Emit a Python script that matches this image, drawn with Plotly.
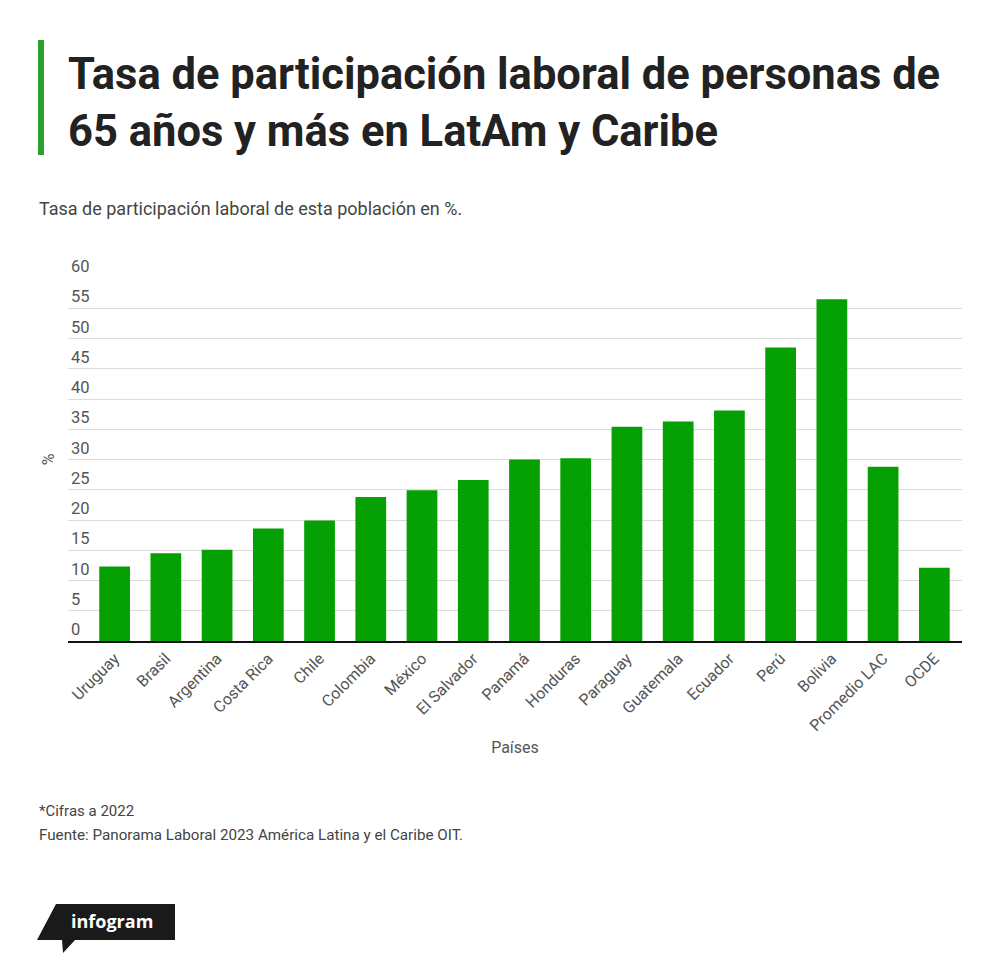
import plotly.graph_objects as go

# Tasa de participación laboral 65+ (%), cifras a 2022
paises = [
    "Uruguay", "Brasil", "Argentina", "Costa Rica", "Chile", "Colombia",
    "México", "El Salvador", "Panamá", "Honduras", "Paraguay", "Guatemala",
    "Ecuador", "Perú", "Bolivia", "Promedio LAC", "OCDE",
]
tasas = [
    12.3, 14.5, 15.1, 18.6, 19.9, 23.8,
    24.9, 26.6, 30.0, 30.2, 35.4, 36.3,
    38.1, 48.5, 56.5, 28.8, 12.1,
]
y_ticks = list(range(0, 61, 5))

# page body adds an 8px margin, so the figure is a bit smaller than the window
OFF = 8
W, H = 1000 - OFF, 972 - OFF
L, R, T, B = 68 - OFF, 38, 278 - OFF, 331
GREEN = "#04a004"
FONT = "Roboto, 'Noto Sans', sans-serif"


def px(x):
    return (x - OFF - L) / (W - L - R)


def py(y):
    return (H - B - (y - OFF)) / (H - T - B)


fig = go.Figure()
fig.add_trace(go.Bar(
    x=paises, y=tasas, marker_color=GREEN, marker_line_width=0,
    width=0.6, hovertemplate="%{x}: %{y}%<extra></extra>",
))

fig.update_layout(
    width=W, height=H,
    margin=dict(l=L, r=R, t=T, b=B),
    paper_bgcolor="white", plot_bgcolor="white",
    font=dict(family=FONT, color="#555", size=15),
    showlegend=False,
    title=dict(
        text="Tasa de participación laboral de personas de<br>65 años y más en LatAm y Caribe",
        xref="container", yref="container", x=(68 - OFF) / W, y=1 - 81 / H,
        xanchor="left", yanchor="top",
        font=dict(family=FONT, size=43.5, color="#222", weight="bold"),
    ),
    xaxis=dict(
        range=[-0.91, 16.54], tickangle=-45, showgrid=False,
        tickfont=dict(size=16, color="#555"), ticks="",
        showline=True, linecolor="#111", linewidth=2,
        title=dict(text="Países", font=dict(size=16, color="#555"), standoff=8),
    ),
    yaxis=dict(
        range=[0, 60], tickvals=y_ticks, ticklabelposition="inside top",
        ticklabeloverflow="allow", ticks="",
        gridcolor="#dcdcdc", gridwidth=1, zeroline=False,
        tickfont=dict(size=16.5, color="#555"),
        title=dict(text="%", font=dict(size=16, color="#555"), standoff=12),
    ),
    bargap=0.4,
)

# green accent beside the title
fig.add_shape(type="rect", xref="paper", yref="paper",
              x0=px(38), x1=px(44), y0=py(155), y1=py(40),
              fillcolor="#2ca02c", line_width=0)

notes = [
    ("Tasa de participación laboral de esta población en %.", 208, 18, "#444"),
    ("*Cifras a 2022", 811, 15, "#444"),
    ("Fuente: Panorama Laboral 2023 América Latina y el Caribe OIT.", 835, 15.2, "#444"),
]
for text, y, size, color in notes:
    fig.add_annotation(text=text, xref="paper", yref="paper", x=px(37), y=py(y),
                       xanchor="left", yanchor="middle", showarrow=False,
                       font=dict(family=FONT, size=size, color=color))

# infogram badge
pts = [(56, 904), (175, 904), (175, 940), (75, 940), (63, 953), (62, 940), (37, 940)]
path = "M " + " L ".join(f"{px(a):.5f},{py(b):.5f}" for a, b in pts) + " Z"
fig.add_shape(type="path", xref="paper", yref="paper", path=path,
              fillcolor="#1a1a1a", line_width=0)
fig.add_annotation(text="<b>infogram</b>", xref="paper", yref="paper", x=px(112), y=py(921),
                   xanchor="center", yanchor="middle", showarrow=False,
                   font=dict(family="'Open Sans', sans-serif", size=18, color="white"))

fig.write_html("out.html")
